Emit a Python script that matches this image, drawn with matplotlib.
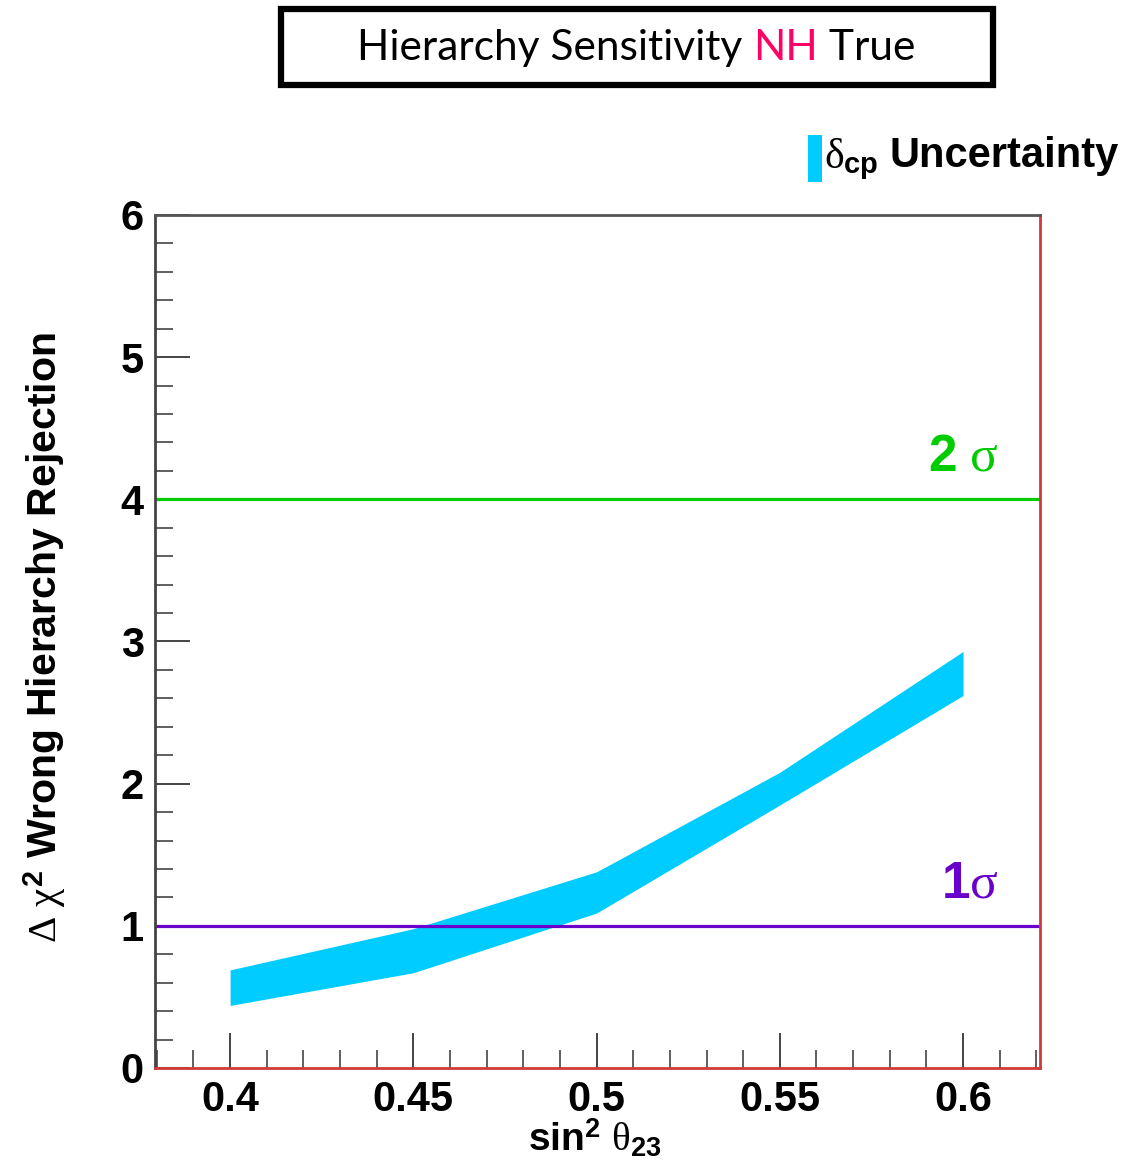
import matplotlib
matplotlib.use("Agg")
import matplotlib.pyplot as plt
from matplotlib.patches import Rectangle
from matplotlib.ticker import MultipleLocator, FixedLocator

# sin^2(theta23) grid and the delta_cp band edges
sin2_theta23 = [0.40, 0.45, 0.50, 0.55, 0.60]
band_upper = [0.69, 0.98, 1.38, 2.08, 2.93]
band_lower = [0.44, 0.67, 1.09, 1.85, 2.62]

sigma_levels = [4, 1]
sigma_labels = [r"$\mathbf{2}\ \sigma$", r"$\mathbf{1}\sigma$"]
sigma_colors = ["#00cc00", "#6a00cc"]

x_ticks = [0.40, 0.45, 0.50, 0.55, 0.60]
x_ticklabels = ["0.4", "0.45", "0.5", "0.55", "0.6"]
y_ticks = [0, 1, 2, 3, 4, 5, 6]

band_color = "#00ccff"
bold_font = "Liberation Sans"

# greek letters upright serif, digits/subscripts bold sans (ROOT look)
plt.rcParams["mathtext.fontset"] = "custom"
plt.rcParams["mathtext.rm"] = "Liberation Serif"
plt.rcParams["mathtext.it"] = "Liberation Serif"
plt.rcParams["mathtext.bf"] = "Liberation Sans:bold"
plt.rcParams["mathtext.sf"] = "Liberation Sans"

fig = plt.figure(figsize=(11.38, 11.69), dpi=100)
ax = fig.add_axes([0.1362, 0.0864, 0.9139 - 0.1362, 0.8161 - 0.0864])

ax.fill_between(sin2_theta23, band_lower, band_upper, color=band_color, lw=0)

for lvl, col in zip(sigma_levels, sigma_colors):
    ax.axhline(lvl, color=col, lw=2.3)

ax.set_xlim(0.3795, 0.621)
ax.set_ylim(0, 6)

# sigma level annotations
for lvl, lab, col in zip(sigma_levels, sigma_labels, sigma_colors):
    ax.text(0.6098, lvl + 0.2, lab, color=col, fontsize=37, ha="right", va="baseline")

ax.xaxis.set_major_locator(FixedLocator(x_ticks))
ax.set_xticklabels(x_ticklabels)
ax.xaxis.set_minor_locator(MultipleLocator(0.01))
ax.yaxis.set_major_locator(FixedLocator(y_ticks))
ax.yaxis.set_minor_locator(MultipleLocator(0.2))

ax.tick_params(which="both", direction="in", top=False, right=False, color="#444444")
ax.tick_params(which="major", length=25, width=1.4)
ax.tick_params(which="minor", length=13, width=1.2)
ax.tick_params(axis="x", which="major", pad=9)
ax.tick_params(axis="y", which="major", pad=8)
for lab in ax.get_xticklabels() + ax.get_yticklabels():
    lab.set_fontsize(30)
    lab.set_fontweight("bold")
    lab.set_family(bold_font)

ax.spines["top"].set_color("#555555")
ax.spines["left"].set_color("#444444")
ax.spines["right"].set_color("#d03a3a")
ax.spines["bottom"].set_color("#d03a3a")
for s in ax.spines.values():
    s.set_linewidth(2)

ax.set_xlabel(r"sin$^{\mathbf{2}}$ $\theta_{\mathbf{23}}$", fontsize=28, fontweight="bold",
              family=bold_font)
ax.xaxis.set_label_coords(0.497, -0.058)
ax.set_ylabel(r"$\Delta\ \chi^{\mathbf{2}}$ Wrong Hierarchy Rejection", fontsize=29.5,
              fontweight="bold", family=bold_font)
ax.yaxis.set_label_coords(-0.098, 0.505)

# legend entry for the band
fig.patches.append(Rectangle((808 / 1138, 1 - 182 / 1169), 14 / 1138, 47 / 1169,
                             transform=fig.transFigure, color=band_color, lw=0))
fig.text(824 / 1138, 1 - 168 / 1169, r"$\delta_{\mathbf{cp}}$", fontsize=30,
         va="baseline", ha="left")
fig.text(889 / 1138, 1 - 167 / 1169, "Uncertainty", fontsize=30, fontweight="bold",
         family=bold_font, va="baseline", ha="left")

# boxed title
fig.patches.append(Rectangle((281 / 1138, 1 - 85 / 1169), 712 / 1138, 76 / 1169,
                             transform=fig.transFigure, fill=False, ec="black", lw=4.5))
title_y = 1 - 60 / 1169
t1 = fig.text(357 / 1138, title_y, "Hierarchy Sensitivity ", fontsize=30.6, family="Lato",
              va="baseline", ha="left")
fig.canvas.draw()
bb = t1.get_window_extent()
t2 = fig.text(bb.x1 / fig.bbox.width, title_y, "NH", fontsize=30.6, family="Lato",
              color="#ff0066", va="baseline", ha="left")
bb2 = t2.get_window_extent()
fig.text(bb2.x1 / fig.bbox.width, title_y, " True", fontsize=30.6, family="Lato",
         va="baseline", ha="left")

fig.savefig("out.png", dpi=100)
